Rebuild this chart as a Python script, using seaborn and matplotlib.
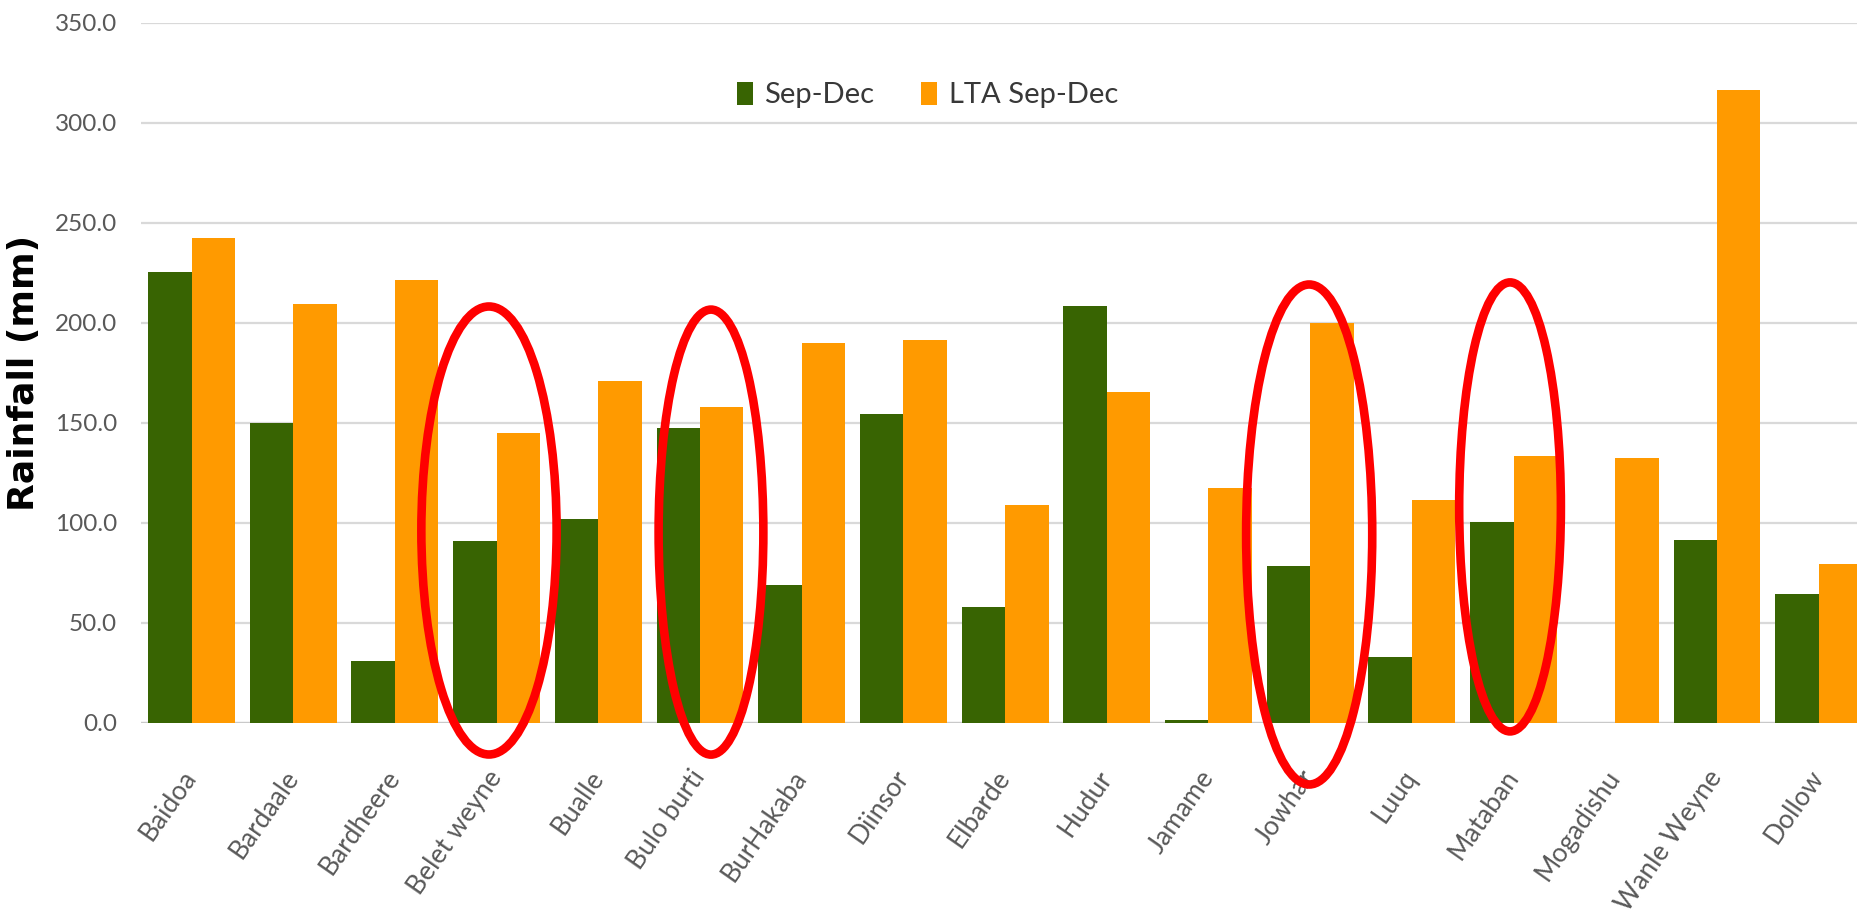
import matplotlib
matplotlib.use("Agg")
import matplotlib.pyplot as plt
from matplotlib.patches import Ellipse
import seaborn as sns
import pandas as pd

# Stations and seasonal rainfall (mm)
stations = ["Baidoa", "Bardaale", "Bardheere", "Belet weyne", "Bualle", "Bulo burti",
            "BurHakaba", "Diinsor", "Elbarde", "Hudur", "Jamame", "Jowhar", "Luuq",
            "Mataban", "Mogadishu", "Wanle Weyne", "Dollow"]
sep_dec = [225.5, 150.0, 30.8, 90.8, 101.7, 147.5, 68.8, 154.3, 57.7, 208.3,
           1.2, 78.3, 32.7, 100.5, 0.0, 91.3, 64.3]
lta_sep_dec = [242.3, 209.3, 221.6, 144.7, 171.0, 158.0, 190.0, 191.3, 108.8, 165.2,
               117.5, 199.7, 111.3, 133.5, 132.2, 316.3, 79.2]
series_names = ["Sep-Dec", "LTA Sep-Dec"]
y_ticks = [0, 50, 100, 150, 200, 250, 300, 350]

# Highlighted stations: (station index, centre value, width in categories, height in mm)
highlights = [(2.925, 96.1, 1.33, 224.0),
              (5.108, 95.3, 1.03, 222.5),
              (10.99, 94.1, 1.24, 250.0),
              (12.965, 107.9, 1.00, 224.5)]

df = pd.DataFrame({
    "Station": stations * 2,
    "Rainfall": sep_dec + lta_sep_dec,
    "Series": [series_names[0]] * len(stations) + [series_names[1]] * len(stations),
})

sns.set_theme(style="white")
plt.rcParams["font.family"] = ["Lato", "DejaVu Sans"]

W, H = 1858, 916
fig = plt.figure(figsize=(W / 100, H / 100), dpi=100)
left_px, right_px = 140.65, 1858
bottom_px, top_px = 722.7, 22.7
ax_w = right_px - left_px
ax = fig.add_axes([left_px / W, 1 - bottom_px / H, ax_w / W, (bottom_px - top_px) / H])

palette = {"Sep-Dec": "#386402", "LTA Sep-Dec": "#FF9A00"}
sns.barplot(data=df, x="Station", y="Rainfall", hue="Series", order=stations,
            hue_order=series_names, palette=palette, width=0.855, linewidth=0,
            saturation=1, ax=ax, zorder=3)

ax.set_ylim(0, 350)
ax.set_xlim(-0.5, (right_px - 191.5) / 101.7)
ax.set_yticks(y_ticks)
ax.set_yticklabels([f"{v:.1f}" for v in y_ticks], fontsize=17.5, color="#595959")
ax.yaxis.grid(True, color="#d9d9d9", linewidth=1.6, zorder=0)
ax.set_axisbelow(True)
ax.axhline(0, color="#c9c9c9", linewidth=1.6, zorder=2)
for s in ax.spines.values():
    s.set_visible(False)
ax.tick_params(axis="y", length=0, pad=17)
ax.tick_params(axis="x", length=0, pad=36)

ax.set_xticks(range(len(stations)))
ax.set_xticklabels(stations, rotation=55, ha="right", va="center",
                   rotation_mode="anchor", fontsize=19, color="#595959")
ax.set_xlabel("")
ax.set_ylabel("Rainfall (mm)", fontsize=26, fontweight="bold", color="black",
              family="DejaVu Sans")
ax.yaxis.set_label_coords((41 - left_px) / ax_w, 0.5)

# Legend at the top centre
handles, labels = ax.get_legend_handles_labels()
ax.legend_.remove()
fig.legend(handles, labels, loc="center", bbox_to_anchor=(927.5 / W, 1 - 95 / H),
           ncol=2, frameon=False, prop={"size": 21},
           handlelength=0.55, handleheight=0.85, handletextpad=0.4,
           columnspacing=1.6, borderpad=0, labelcolor="#383838")

# Red outlines around selected stations
for cx, cy, w, h in highlights:
    ax.add_patch(Ellipse((cx, cy), w, h, fill=False, edgecolor="#FF0000",
                         linewidth=6.2, zorder=5, clip_on=False))

fig.savefig("out.png", dpi=100)
